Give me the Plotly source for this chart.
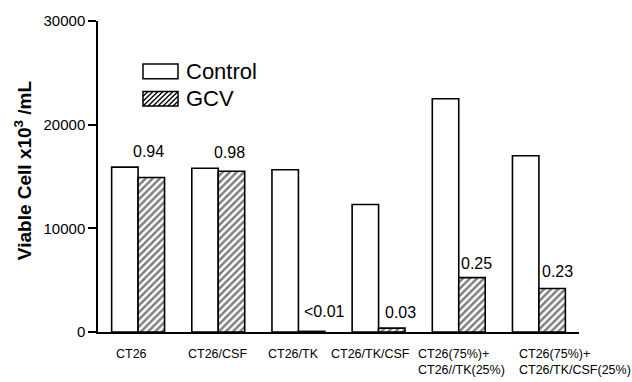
import plotly.graph_objects as go

# Cell counts (x10^3 cells/mL) for each culture, untreated vs GCV-treated
categories = [
    "CT26",
    "CT26/CSF",
    "CT26/TK",
    "CT26/TK/CSF",
    "CT26(75%)+<br>CT26//TK(25%)",
    "CT26(75%)+<br>CT26/TK/CSF(25%)",
]
control = [15900, 15800, 15650, 12300, 22500, 17000]
gcv = [14900, 15500, 60, 370, 5250, 4200]
ratio_labels = ["0.94", "0.98", "<0.01", "0.03", "0.25", "0.23"]
y_ticks = [0, 10000, 20000, 30000]

# Layout geometry (pixels)
W, H = 632, 382
ML, MR, MT, MB = 98, 53, 14, 50
PW, PH = W - ML - MR, H - MT - MB

FONT = "Liberation Sans, Arial, Helvetica, sans-serif"


def px(x):
    return (x - ML) / PW


def py(y):
    return (H - MB - y) / PH


# per-label nudges (pixels) for the ratio labels and the category labels
ratio_dx = [-3, -1.5, 13, 8.5, 5, 5]
ratio_dy = [25.7, 18.9, 19.5, 15.3, 13.7, 17]
cat_dx = [-6.5, -1, -4.5, -8.5, 3, 36.5]

fig = go.Figure()
fig.add_trace(go.Bar(
    name="Control", x=categories, y=control,
    marker=dict(color="white", line=dict(color="black", width=1.6)),
    showlegend=False,
))
fig.add_trace(go.Bar(
    name="GCV", x=categories, y=gcv,
    marker=dict(color="white", line=dict(color="black", width=1.6),
                pattern=dict(shape="/", fgcolor="black", bgcolor="white",
                             size=5, solidity=0.5)),
    showlegend=False,
))

annotations = []
bar_half = 0.5 * (1 - 0.34) / 2 * (PW / len(categories))
for i, cat in enumerate(categories):
    annotations.append(dict(
        x=cat, y=gcv[i], xref="x", yref="y", text=ratio_labels[i],
        showarrow=False, xanchor="center", yanchor="middle",
        xshift=bar_half + ratio_dx[i], yshift=ratio_dy[i],
        font=dict(family=FONT, size=16, color="black", weight="normal"),
    ))
    annotations.append(dict(
        x=cat, y=0, xref="x", yref="paper", text=cat,
        showarrow=False, xanchor="center", yanchor="top", align="left",
        xshift=cat_dx[i], yshift=-13,
        font=dict(family=FONT, size=12.5, color="black", weight="normal"),
    ))

# axis title
annotations.append(dict(
    x=px(23), y=py(166.5), xref="paper", yref="paper",
    text="<b>Viable Cell x10<sup>3</sup> /mL</b>", textangle=-90,
    showarrow=False, xanchor="center", yanchor="middle",
    font=dict(family=FONT, size=19, color="black"),
))

# legend entries
legend_rows = [("Control", 58, 73), ("GCV", 86, 101)]
sx0, sx1 = 143, 178
shapes = []
for name, y0, y1 in legend_rows:
    shapes.append(dict(
        type="rect", xref="paper", yref="paper",
        x0=px(sx0), x1=px(sx1), y0=py(y1), y1=py(y0),
        fillcolor="white", line=dict(color="black", width=1.5), layer="above",
    ))
    annotations.append(dict(
        x=px(183.5), y=py((y0 + y1) / 2), xref="paper", yref="paper",
        text=name, showarrow=False, xanchor="left", yanchor="middle",
        font=dict(family=FONT, size=22, color="black", weight="normal"),
    ))

# hatching inside the GCV legend swatch
_, hy0, hy1 = legend_rows[1]
h = hy1 - hy0
segs = []
step = 5.0
c = sx0 - h
while c < sx1:
    # line from (c, bottom) to (c + h, top), clipped to the swatch
    xa, ya = c, hy1
    xb, yb = c + h, hy0
    if xa < sx0:
        ya = hy1 - (sx0 - xa)
        xa = sx0
    if xb > sx1:
        yb = hy0 + (xb - sx1)
        xb = sx1
    if xb > xa:
        segs.append(f"M{px(xa)},{py(ya)}L{px(xb)},{py(yb)}")
    c += step
shapes.append(dict(
    type="path", xref="paper", yref="paper", path="".join(segs),
    line=dict(color="black", width=1.3), layer="above",
))

fig.update_layout(
    width=W, height=H,
    margin=dict(l=ML, r=MR, t=MT, b=MB, pad=0),
    paper_bgcolor="white", plot_bgcolor="white",
    barmode="group", bargap=0.34, bargroupgap=0,
    font=dict(family=FONT, color="black"),
    annotations=annotations, shapes=shapes,
    xaxis=dict(
        type="category", showticklabels=False, ticks="",
        showline=True, linecolor="black", linewidth=1.5,
        showgrid=False, zeroline=False, range=[-0.5, 5.5],
    ),
    yaxis=dict(
        range=[0, 30000], tickvals=y_ticks,
        ticktext=[str(v) for v in y_ticks],
        ticks="outside", ticklen=8, tickwidth=1.5, tickcolor="black",
        showline=True, linecolor="black", linewidth=1.5,
        showgrid=False, zeroline=False,
        tickfont=dict(family=FONT, size=15, color="black", weight="normal"),
    ),
)

fig.write_html("out.html")
